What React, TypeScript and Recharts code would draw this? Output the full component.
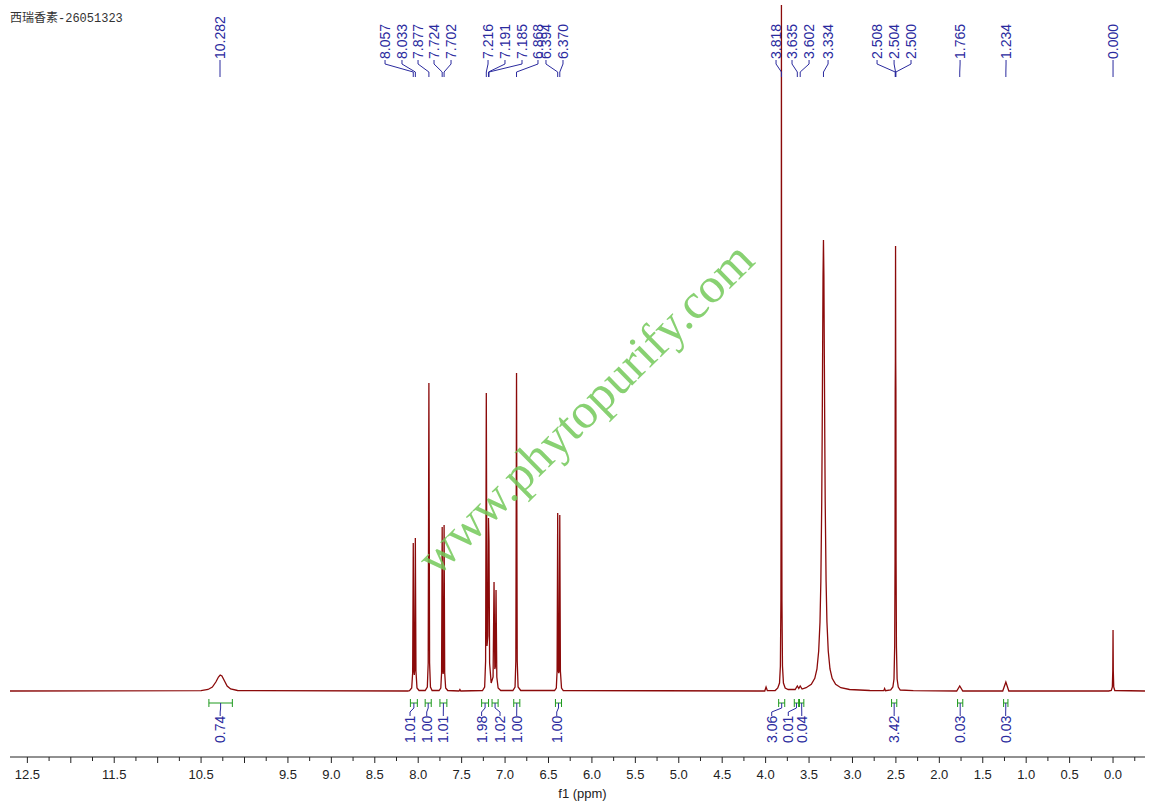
import { LineChart, Line, XAxis, YAxis, ReferenceLine, ReferenceDot } from 'recharts'

// 1H NMR trace, intensities in arbitrary units
const title = '西瑞香素-26051323'
const watermark = 'www.phytopurify.com'

const aldehydeTrace: [number, number][] = [
  [12.7, 0], [10.5, 0.3], [10.42, 1.5], [10.37, 4], [10.33, 9], [10.3, 14], [10.28, 16],
  [10.26, 15], [10.23, 10], [10.2, 5], [10.16, 2], [10.08, 0.5], [8.12, 0],
]

const aromaticTrace: [number, number][] = [
  [8.1, 0.3], [8.075, 3], [8.064, 18], [8.057, 148], [8.05, 20], [8.045, 16], [8.04, 22],
  [8.033, 153], [8.026, 20], [8.014, 3], [7.99, 0.5],
  [7.92, 0.5], [7.895, 4], [7.885, 28], [7.877, 308], [7.869, 28], [7.859, 4], [7.84, 0.5],
  [7.76, 0.5], [7.74, 3], [7.731, 18], [7.724, 164], [7.717, 20], [7.713, 17], [7.709, 20],
  [7.702, 166], [7.695, 18], [7.684, 3], [7.66, 0.5],
  [7.53, 0], [7.52, 1.5], [7.51, 0],
  [7.26, 0.5], [7.235, 4], [7.224, 30], [7.216, 298], [7.208, 45], [7.198, 55], [7.191, 173],
  [7.185, 150], [7.178, 28], [7.16, 8], [7.138, 14], [7.127, 109], [7.118, 22], [7.112, 24],
  [7.104, 101], [7.095, 14], [7.08, 3], [7.05, 0.5],
  [6.91, 0.5], [6.885, 4], [6.876, 30], [6.868, 318], [6.86, 30], [6.85, 4], [6.82, 0.5],
  [6.43, 0.5], [6.41, 3], [6.401, 20], [6.394, 178], [6.387, 20], [6.382, 18], [6.377, 20],
  [6.37, 176], [6.363, 20], [6.35, 3], [6.33, 0.5],
  [4.1, 0],
]

const aliphaticTrace: [number, number][] = [
  [4.01, 0], [3.995, 4], [3.98, 0.3],
  [3.89, 0.5], [3.86, 3], [3.84, 8], [3.83, 25], [3.824, 90], [3.82, 300], [3.818, 686],
  [3.816, 300], [3.812, 90], [3.806, 25], [3.795, 8], [3.775, 3], [3.74, 1.5],
  [3.66, 1.5], [3.635, 5], [3.618, 2.5], [3.602, 5], [3.58, 2],
  [3.534, 3.3], [3.474, 6.6], [3.434, 12.7], [3.409, 22], [3.389, 40], [3.374, 69], [3.364, 110],
  [3.354, 189], [3.349, 254], [3.344, 335], [3.339, 415], [3.334, 451], [3.329, 415], [3.324, 335],
  [3.319, 254], [3.314, 189], [3.304, 110], [3.294, 69], [3.279, 40], [3.259, 22], [3.234, 12.7],
  [3.194, 6.6], [3.134, 3.3], [3.034, 1.5], [2.8, 0.5],
  [2.64, 0.3], [2.63, 2.5], [2.62, 0.3],
  [2.56, 1], [2.535, 4], [2.522, 12], [2.514, 45], [2.51, 130], [2.508, 300], [2.506, 330],
  [2.504, 445], [2.502, 330], [2.5, 300], [2.498, 130], [2.494, 45], [2.486, 12], [2.473, 4],
  [2.45, 1], [2.3, 0.3],
  [1.8, 0], [1.765, 5], [1.73, 0], [1.27, 0], [1.234, 9], [1.2, 0],
]

const tmsTrace: [number, number][] = [
  [0.05, 0], [0.02, 0.5], [0.008, 4], [0.003, 20], [0, 61], [-0.003, 20], [-0.008, 4],
  [-0.02, 0.5], [-0.368, 0],
]

const peakLabels = [
  '10.282', '8.057', '8.033', '7.877', '7.724', '7.702', '7.216', '7.191', '7.185', '6.868',
  '6.394', '6.370', '3.818', '3.635', '3.602', '3.334', '2.508', '2.504', '2.500', '1.765',
  '1.234', '0.000',
]
// where each label text sits along the axis (ppm), spread out like the original
const peakLabelAt = [
  10.282, 8.382, 8.187, 8.002, 7.818, 7.622, 7.196, 7.001, 6.805, 6.621,
  6.529, 6.333, 3.88, 3.696, 3.5, 3.281, 2.717, 2.521, 2.326, 1.761,
  1.232, 0,
]

const integralValues = ['0.74', '1.01', '1.00', '1.01', '1.98', '1.02', '1.00', '1.00', '3.06', '0.01', '0.04', '3.42', '0.03', '0.03']
const integralFrom = [10.41, 8.09, 7.92, 7.75, 7.27, 7.15, 6.9, 6.42, 3.85, 3.67, 3.61, 2.55, 1.79, 1.26]
const integralTo = [10.14, 8.01, 7.85, 7.67, 7.19, 7.08, 6.83, 6.35, 3.78, 3.62, 3.56, 2.49, 1.73, 1.21]
const integralLabelAt = [10.28, 8.094, 7.902, 7.711, 7.27, 7.058, 6.866, 6.405, 3.93, 3.739, 3.584, 2.52, 1.76, 1.236]

const axisTicks = [
  12.5, 12.25, 12, 11.75, 11.5, 11.25, 11, 10.75, 10.5, 10.25, 10, 9.75, 9.5, 9.25, 9, 8.75,
  8.5, 8.25, 8, 7.75, 7.5, 7.25, 7, 6.75, 6.5, 6.25, 6, 5.75, 5.5, 5.25, 5, 4.75, 4.5, 4.25,
  4, 3.75, 3.5, 3.25, 3, 2.75, 2.5, 2.25, 2, 1.75, 1.5, 1.25, 1, 0.75, 0.5, 0.25, 0, -0.25,
]
const tickLabels = [
  '12.5', '11.5', '10.5', '9.5', '9.0', '8.5', '8.0', '7.5', '7.0', '6.5', '6.0', '5.5', '5.0',
  '4.5', '4.0', '3.5', '3.0', '2.5', '2.0', '1.5', '1.0', '0.5', '0.0',
]

const data = [...aldehydeTrace, ...aromaticTrace, ...aliphaticTrace, ...tmsTrace].map(([ppm, y]) => ({ ppm, y }))

const RED = '#8b0a0a'
const BLUE = '#2a2a9e'
const GREEN = '#1e9a1e'
const SANS = "'Liberation Sans', Arial, sans-serif"

// label geometry in intensity units (1 unit = 1px)
const TOP_TEXT = 632
const BAR_Y = -12
const INT_TEXT = -52

function AxisTick({ x, y, payload }: any) {
  const v = payload.value as number
  const major = Math.abs(v * 2 - Math.round(v * 2)) < 1e-6
  const label = tickLabels.find(t => Math.abs(parseFloat(t) - v) < 1e-6)
  return (
    <g>
      <line x1={x} x2={x} y1={y} y2={y + (major ? 6 : 4)} stroke="#222" />
      {label && (
        <text x={x} y={y + 22} textAnchor="middle" fontSize={13} fill="#222" fontFamily={SANS}>
          {label}
        </text>
      )}
    </g>
  )
}

const vText = (text: string, color: string) => (p: any) => (
  <text
    x={p.cx}
    y={p.cy}
    transform={`rotate(-90 ${p.cx} ${p.cy})`}
    textAnchor="start"
    dominantBaseline="central"
    fontSize={14}
    fontFamily={SANS}
    fill={color}
  >
    {text}
  </text>
)

const watermarkShape = (p: any) => (
  <text
    x={p.cx}
    y={p.cy}
    transform={`rotate(-44.6 ${p.cx} ${p.cy})`}
    textAnchor="middle"
    dominantBaseline="central"
    fontSize={50}
    fontFamily="'Liberation Serif', 'Times New Roman', serif"
    fill="#74c95a"
    opacity={0.85}
  >
    {watermark}
  </text>
)

export default function App() {
  return (
    <div style={{ position: 'absolute', left: 0, top: 0, width: 1160, height: 804, background: '#fff' }}>
      <div
        style={{
          position: 'absolute', left: 10, top: 8, fontSize: 12, color: '#333',
          fontFamily: "'Liberation Mono', 'Noto Sans CJK SC', monospace",
        }}
      >
        {title}
      </div>
      <LineChart width={1160} height={804} data={data} margin={{ top: 5, right: 15, bottom: 0, left: 10 }}>
        <XAxis
          type="number"
          dataKey="ppm"
          domain={[-0.368, 12.7]}
          reversed
          allowDataOverflow
          ticks={axisTicks}
          interval={0}
          tick={<AxisTick />}
          tickLine={false}
          tickSize={0}
          tickMargin={0}
          axisLine={{ stroke: '#222' }}
          height={47}
          label={{ value: 'f1 (ppm)', position: 'insideBottom', offset: 6, dx: 5, fill: '#222', fontSize: 13, fontFamily: SANS }}
        />
        <YAxis hide type="number" domain={[-66, 686]} allowDataOverflow />
        <Line
          type="linear"
          dataKey="y"
          stroke={RED}
          strokeWidth={1.3}
          dot={false}
          isAnimationActive={false}
        />

        {peakLabels.map((t, i) => {
          const at = peakLabelAt[i]
          const pk = parseFloat(t)
          return [
            <ReferenceLine key={`a${i}`} segment={[{ x: at, y: TOP_TEXT - 1 }, { x: at, y: TOP_TEXT - 5 }]} stroke={BLUE} />,
            <ReferenceLine key={`b${i}`} segment={[{ x: at, y: TOP_TEXT - 5 }, { x: pk, y: TOP_TEXT - 13 }]} stroke={BLUE} />,
            <ReferenceLine key={`c${i}`} segment={[{ x: pk, y: TOP_TEXT - 13 }, { x: pk, y: TOP_TEXT - 18 }]} stroke={BLUE} />,
            <ReferenceDot key={`t${i}`} x={at} y={TOP_TEXT} shape={vText(t, BLUE)} />,
          ]
        })}

        {integralValues.map((v, i) => {
          const a = integralFrom[i]
          const b = integralTo[i]
          const c = (a + b) / 2
          const at = integralLabelAt[i]
          return [
            <ReferenceLine key={`ib${i}`} segment={[{ x: a, y: BAR_Y }, { x: b, y: BAR_Y }]} stroke={GREEN} />,
            <ReferenceLine key={`il${i}`} segment={[{ x: a, y: BAR_Y + 4 }, { x: a, y: BAR_Y - 4 }]} stroke={GREEN} />,
            <ReferenceLine key={`ir${i}`} segment={[{ x: b, y: BAR_Y + 4 }, { x: b, y: BAR_Y - 4 }]} stroke={GREEN} />,
            <ReferenceLine key={`ic1${i}`} segment={[{ x: c, y: BAR_Y }, { x: c, y: BAR_Y - 5 }]} stroke={BLUE} />,
            <ReferenceLine key={`ic2${i}`} segment={[{ x: c, y: BAR_Y - 5 }, { x: at, y: BAR_Y - 9 }]} stroke={BLUE} />,
            <ReferenceLine key={`ic3${i}`} segment={[{ x: at, y: BAR_Y - 9 }, { x: at, y: BAR_Y - 13 }]} stroke={BLUE} />,
            <ReferenceDot key={`it${i}`} x={at} y={INT_TEXT} shape={vText(v, BLUE)} />,
          ]
        })}

        <ReferenceDot x={6.08} y={283} shape={watermarkShape} />
      </LineChart>
    </div>
  )
}
